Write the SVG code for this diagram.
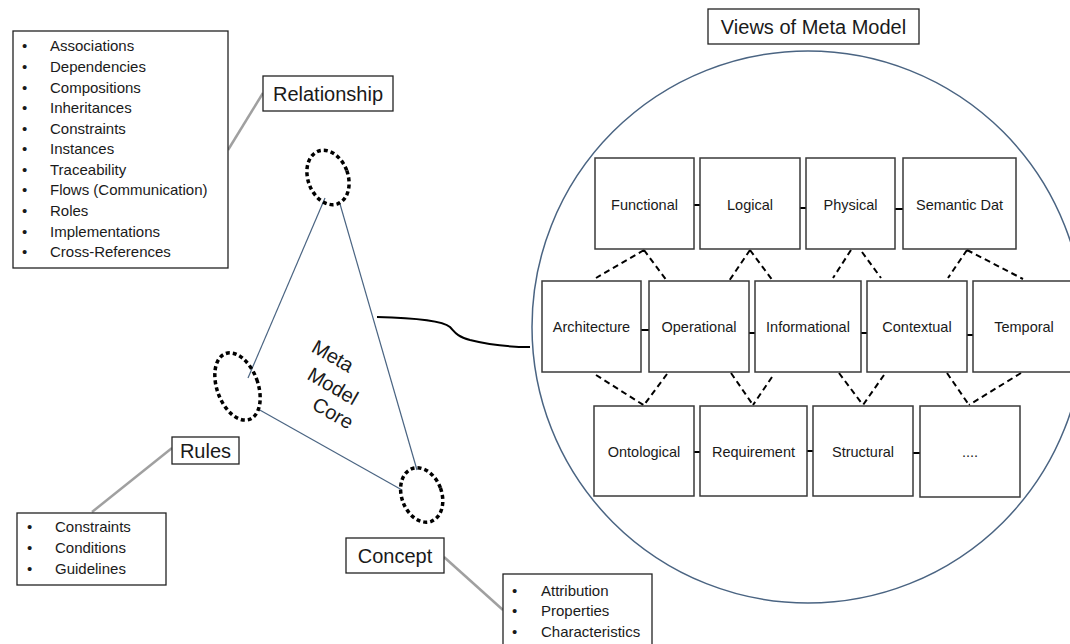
<svg xmlns="http://www.w3.org/2000/svg" width="1070" height="644" viewBox="0 0 1070 644">
<style>
text{font-family:"Liberation Sans",Arial,sans-serif;fill:#1a1a1a}
.box{fill:#fff;stroke:#3a3a3a;stroke-width:1.5}
.tbox{fill:#fff;stroke:#222;stroke-width:1.3}
.lbl{font-size:14.5px;text-anchor:middle}
.title{font-size:20px;text-anchor:middle}
.li{font-size:15px}
.core{font-size:20px;text-anchor:middle}
.dash{stroke:#000;stroke-width:2;stroke-dasharray:6 4;fill:none}
.link{stroke:#000;stroke-width:2;fill:none}
.gray{stroke:#a0a0a0;stroke-width:2.5;fill:none}
.tri{stroke:#4a6482;stroke-width:1.2;fill:none}
.ell{fill:none;stroke:#000;stroke-width:3.5;stroke-dasharray:4 3}
.circ{fill:#fff;stroke:#4a6482;stroke-width:1.5}
</style>

<g id="views-circle"><circle class="circ" cx="808" cy="327" r="276"/></g>

<g id="connectors">
  <line class="gray" x1="228" y1="150" x2="263" y2="93"/>
  <line class="gray" x1="92" y1="512" x2="172" y2="448"/>
  <line class="gray" x1="444" y1="557" x2="503" y2="610"/>
  <line class="tri" x1="325" y1="198" x2="248" y2="378"/>
  <line class="tri" x1="340" y1="204" x2="417" y2="470"/>
  <line class="tri" x1="258" y1="409" x2="402" y2="490"/>
  <path class="link" d="M377,317 C420,318 443,321 450,327 C455,332 456,336 470,340 C490,345 510,347 530,347"/>
  <!-- grid solid links -->
  <line class="link" x1="694" y1="205" x2="700" y2="205"/>
  <line class="link" x1="800" y1="208" x2="806" y2="208"/>
  <line class="link" x1="895" y1="209" x2="903" y2="209"/>
  <line class="link" x1="641" y1="330" x2="649" y2="330"/>
  <line class="link" x1="749" y1="333" x2="755" y2="333"/>
  <line class="link" x1="861" y1="333" x2="867" y2="333"/>
  <line class="link" x1="967" y1="335" x2="973" y2="335"/>
  <line class="link" x1="694" y1="452" x2="700" y2="452"/>
  <line class="link" x1="807" y1="451" x2="813" y2="451"/>
  <line class="link" x1="913" y1="453" x2="920" y2="453"/>
  <!-- dashed row1-row2 -->
  <path class="dash" d="M644,250 L596,278 M644,250 L667,281"/>
  <path class="dash" d="M750,250 L729,281 M750,250 L773,281"/>
  <path class="dash" d="M851,250 L833,278 M862,252 L881,278"/>
  <path class="dash" d="M967,250 L948,278 M967,250 L1023,279"/>
  <!-- dashed row2-row3 -->
  <path class="dash" d="M596,375 L645,406 M667,374 L644,405"/>
  <path class="dash" d="M731,373 L753,405 M772,377 L753,405"/>
  <path class="dash" d="M839,373 L863,405 M884,375 L863,405"/>
  <path class="dash" d="M947,373 L969,405 M1021,373 L969,405"/>
</g>

<g id="relationship-list">
  <rect class="tbox" x="13" y="31" width="215" height="237"/>
  <g class="li">
    <text x="22" y="51.4">•</text><text x="50" y="51.4">Associations</text>
    <text x="22" y="72">•</text><text x="50" y="72">Dependencies</text>
    <text x="22" y="92.5">•</text><text x="50" y="92.5">Compositions</text>
    <text x="22" y="113.1">•</text><text x="50" y="113.1">Inheritances</text>
    <text x="22" y="133.7">•</text><text x="50" y="133.7">Constraints</text>
    <text x="22" y="154.3">•</text><text x="50" y="154.3">Instances</text>
    <text x="22" y="174.8">•</text><text x="50" y="174.8">Traceability</text>
    <text x="22" y="195.4">•</text><text x="50" y="195.4">Flows (Communication)</text>
    <text x="22" y="216">•</text><text x="50" y="216">Roles</text>
    <text x="22" y="236.5">•</text><text x="50" y="236.5">Implementations</text>
    <text x="22" y="257.1">•</text><text x="50" y="257.1">Cross-References</text>
  </g>
</g>

<g id="relationship"><rect class="tbox" x="263" y="76" width="130" height="35"/><text class="title" x="328" y="100.5">Relationship</text></g>

<g id="rules"><rect class="tbox" x="172" y="437" width="67" height="27"/><text class="title" x="205.5" y="457.5">Rules</text></g>

<g id="rules-list">
  <rect class="tbox" x="17" y="513" width="149" height="72"/>
  <g class="li">
    <text x="27" y="532.4">•</text><text x="55" y="532.4">Constraints</text>
    <text x="27" y="553.4">•</text><text x="55" y="553.4">Conditions</text>
    <text x="27" y="574.4">•</text><text x="55" y="574.4">Guidelines</text>
  </g>
</g>

<g id="concept"><rect class="tbox" x="346" y="538" width="98" height="35"/><text class="title" x="395" y="562.5">Concept</text></g>

<g id="concept-list">
  <rect class="tbox" x="503" y="574" width="149" height="90"/>
  <g class="li">
    <text x="512" y="596.1">•</text><text x="541" y="596.1">Attribution</text>
    <text x="512" y="616.1">•</text><text x="541" y="616.1">Properties</text>
    <text x="512" y="637.1">•</text><text x="541" y="637.1">Characteristics</text>
  </g>
</g>

<g id="core-top"><ellipse class="ell" cx="328" cy="177.5" rx="20" ry="28" transform="rotate(-20 328 177.5)"/></g>
<g id="core-left"><ellipse class="ell" cx="237.5" cy="386.5" rx="20.5" ry="35" transform="rotate(-20 237.5 386.5)"/></g>
<g id="core-bottom"><ellipse class="ell" cx="421.7" cy="495" rx="20" ry="28" transform="rotate(-20 421.7 495)"/></g>

<g id="meta-model-core">
  <text class="core" transform="translate(333 356) rotate(30)" y="7">Meta</text>
  <text class="core" transform="translate(333 386) rotate(30)" y="7">Model</text>
  <text class="core" transform="translate(333 413) rotate(30)" y="7">Core</text>
</g>

<g id="views-title"><rect class="tbox" x="708" y="9" width="211" height="35"/><text class="title" x="813.5" y="33.5">Views of Meta Model</text></g>

<g id="functional"><rect class="box" x="595" y="158" width="99" height="91"/><text class="lbl" x="644.5" y="210">Functional</text></g>
<g id="logical"><rect class="box" x="700" y="158" width="100" height="91"/><text class="lbl" x="750" y="210">Logical</text></g>
<g id="physical"><rect class="box" x="806" y="158" width="89" height="91"/><text class="lbl" x="850.5" y="210">Physical</text></g>
<g id="semantic"><rect class="box" x="903" y="158" width="113" height="91"/><text class="lbl" x="959.5" y="210">Semantic Dat</text></g>

<g id="architecture"><rect class="box" x="542" y="281" width="99" height="91"/><text class="lbl" x="591.5" y="332">Architecture</text></g>
<g id="operational"><rect class="box" x="649" y="281" width="100" height="91"/><text class="lbl" x="699" y="332">Operational</text></g>
<g id="informational"><rect class="box" x="755" y="281" width="106" height="91"/><text class="lbl" x="808" y="332">Informational</text></g>
<g id="contextual"><rect class="box" x="867" y="281" width="100" height="91"/><text class="lbl" x="917" y="332">Contextual</text></g>
<g id="temporal"><rect class="box" x="973" y="281" width="103" height="91"/><text class="lbl" x="1024" y="332">Temporal</text></g>

<g id="ontological"><rect class="box" x="594" y="406" width="100" height="90"/><text class="lbl" x="644" y="457">Ontological</text></g>
<g id="requirement"><rect class="box" x="700" y="406" width="107" height="90"/><text class="lbl" x="753.5" y="457">Requirement</text></g>
<g id="structural"><rect class="box" x="813" y="406" width="100" height="90"/><text class="lbl" x="863" y="457">Structural</text></g>
<g id="more"><rect class="box" x="920" y="406" width="100" height="91"/><text class="lbl" x="970" y="457">....</text></g>
</svg>
